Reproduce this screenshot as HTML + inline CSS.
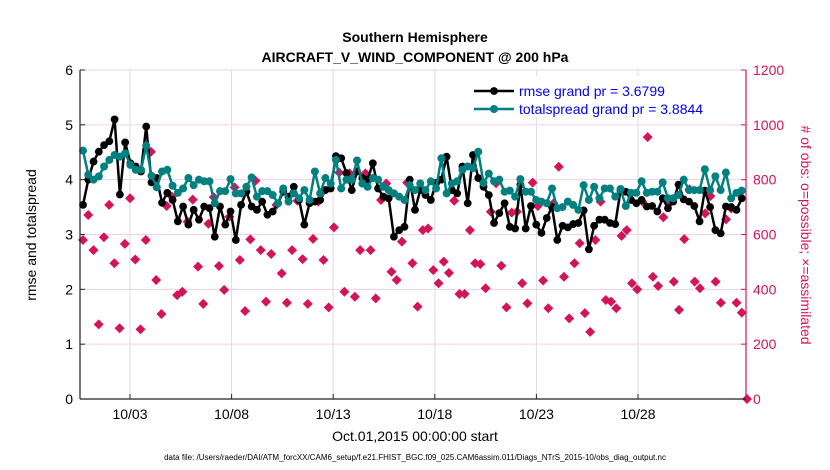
<!DOCTYPE html>
<html><head><meta charset="utf-8">
<style>
html,body{margin:0;padding:0;background:#fff;}
svg{display:block;font-family:"Liberation Sans",sans-serif;}
</style></head>
<body>
<svg id="chart" width="830" height="470" viewBox="0 0 830 470">
<text x="415" y="42" text-anchor="middle" font-size="14" font-weight="bold">Southern Hemisphere</text>
<text x="415" y="62" text-anchor="middle" font-size="14" font-weight="bold">AIRCRAFT_V_WIND_COMPONENT @ 200 hPa</text>
<g id="grid"></g>
<g id="marks"></g>
<g id="axes"></g>
<text transform="translate(36,235) rotate(-90)" text-anchor="middle" font-size="14">rmse and totalspread</text>
<text transform="translate(801,235) rotate(90)" text-anchor="middle" font-size="14" fill="#d4145a"># of obs: o=possible; ×=assimilated</text>
<text x="415" y="441" text-anchor="middle" font-size="14">Oct.01,2015 00:00:00 start</text>
<text x="415" y="460" text-anchor="middle" font-size="8">data file: /Users/raeder/DAI/ATM_forcXX/CAM6_setup/f.e21.FHIST_BGC.f09_025.CAM6assim.011/Diags_NTrS_2015-10/obs_diag_output.nc</text>
<g>
<rect x="468" y="76" width="274" height="42" fill="#fff"/>
<g>
<line x1="474" y1="91" x2="514" y2="91" stroke="#000" stroke-width="2.5"/>
<circle cx="494" cy="91" r="3.9" fill="#000"/>
<text x="519" y="96" font-size="14" fill="#0000ee">rmse grand pr = 3.6799</text>
</g>
<g>
<line x1="474" y1="109" x2="514" y2="109" stroke="#008080" stroke-width="2.5"/>
<circle cx="494" cy="109" r="4" fill="#008080"/>
<text x="519" y="114" font-size="14" fill="#0000ee">totalspread grand pr = 3.8844</text>
</g>
</g>
</svg>
<script>
const yTicks = [0,1,2,3,4,5,6];
const y2Ticks = [0,200,400,600,800,1000,1200];
const dateLabels = ["10/03","10/08","10/13","10/18","10/23","10/28"];
const dateDays = [2,7,12,17,22,27];
const rmse = [3.54,4.0,4.33,4.51,4.63,4.7,5.1,3.73,4.68,4.3,4.24,4.15,4.97,3.95,4.03,3.58,3.76,3.63,3.24,3.51,3.18,3.45,3.27,3.51,
3.48,2.96,3.51,3.18,3.42,2.9,3.54,3.78,3.51,3.45,3.6,3.36,3.42,3.57,3.78,3.69,3.87,3.63,3.18,3.57,3.6,3.63,3.81,3.84,4.43,
4.39,4.12,3.81,4.15,4.03,4.0,4.3,3.84,3.69,3.66,2.96,3.08,3.14,4.0,3.45,3.81,3.72,3.63,3.94,4.0,4.42,3.81,3.75,4.24,3.57,4.45,
4.03,3.87,3.72,3.21,3.39,3.57,3.14,3.11,3.91,3.11,3.52,3.18,3.03,3.3,3.5,2.9,3.16,3.13,3.19,3.21,3.44,2.73,3.16,3.27,3.27,
3.21,3.19,3.8,3.78,3.63,3.57,3.63,3.51,3.52,3.42,3.66,3.48,3.6,3.91,3.64,3.6,3.52,3.24,3.8,3.5,3.08,3.02,3.51,3.5,3.45,3.66,null];
const spread = [4.53,4.09,4.0,4.06,4.24,4.36,4.45,4.42,4.48,4.27,4.18,4.18,4.62,4.07,3.86,4.15,4.18,3.89,3.76,3.84,4.03,3.9,4.0,3.97,
3.97,3.57,3.79,3.79,4.01,3.75,3.75,3.87,4.04,3.69,3.79,3.79,3.72,3.57,3.84,3.6,3.75,3.66,3.81,3.63,4.15,3.75,4.03,3.93,4.36,
3.84,4.0,4.0,4.35,3.93,3.87,4.03,4.0,3.87,3.81,3.75,3.69,3.63,3.9,3.81,3.93,3.81,3.97,3.84,4.39,3.75,3.93,3.97,4.18,4.24,4.21,
4.51,3.94,4.11,3.97,4.0,3.78,3.8,3.69,4.01,3.78,3.78,3.63,3.6,3.57,3.84,3.48,3.5,3.6,3.54,3.45,3.9,3.63,3.87,3.66,3.84,
3.84,3.69,3.83,3.52,3.76,3.76,3.97,3.76,3.78,3.78,3.95,3.66,3.66,3.72,4.0,3.81,3.81,3.81,4.19,3.81,4.06,3.81,4.13,3.66,3.76,3.8,null];
const nobs = [580,671,543,272,590,708,495,258,566,732,509,254,580,902,434,310,704,738,379,391,647,727,483,347,639,
736,485,398,665,772,507,321,582,796,543,355,529,708,458,351,543,723,510,347,584,720,507,334,626,826,
391,823,373,543,823,543,367,726,786,464,434,574,789,495,337,616,622,470,422,501,460,723,383,383,616,495,
492,404,683,787,486,334,680,683,422,349,789,704,432,331,714,847,446,294,495,568,313,245,580,720,361,
355,331,595,616,422,400,720,955,446,412,663,714,428,325,583,765,428,404,677,740,428,351,655,695,351,315,0];

const L=80,R=746,T=70,B=399;
const NS="http://www.w3.org/2000/svg";
const yS=v=>B-(v/6)*(B-T);
const y2S=v=>B-(v/1200)*(B-T);
const xIdx=(i,n)=>83+i*(747-83)/(n-1);
const xDay=d=>130+(d-2)*20.32;
function mk(tag,attrs,parent){const e=document.createElementNS(NS,tag);for(const k in attrs)e.setAttribute(k,attrs[k]);parent.appendChild(e);return e;}
const grid=document.getElementById('grid'),axes=document.getElementById('axes'),marks=document.getElementById('marks');
mk('rect',{x:L,y:T,width:R-L,height:B-T,fill:'#fff'},grid);
yTicks.forEach(v=>{
  const g=mk('line',{x1:L,x2:R,y1:yS(v),y2:yS(v),stroke:'#f3cfe0','stroke-width':1},grid);
  
  
  const t=mk('text',{x:L-7,y:yS(v)+5,'text-anchor':'end','font-size':14},axes);t.textContent=v;
  
  
  mk('line',{x1:L,x2:L+5,y1:yS(v),y2:yS(v),stroke:'#222'},axes);
});
y2Ticks.forEach(v=>{
  const t=mk('text',{x:R+7,y:y2S(v)+5,'font-size':14,fill:'#d4145a'},axes);t.textContent=v;
  
  
  mk('line',{x1:R-5,x2:R,y1:y2S(v),y2:y2S(v),stroke:'#d4145a'},axes);
});
dateDays.forEach((d,i)=>{
  const x=xDay(d);
  const g=mk('line',{x1:x,x2:x,y1:T,y2:B,stroke:'#dddddd','stroke-width':1},grid);
  
  
  mk('line',{x1:x,x2:x,y1:B-5,y2:B,stroke:'#222'},axes);
  const t=mk('text',{x:x,y:B+20,'text-anchor':'middle','font-size':14},axes);t.textContent=dateLabels[i];
  
  
});
mk('line',{x1:L,x2:L,y1:T,y2:B,stroke:'#222','stroke-width':1.2},axes);
mk('line',{x1:L,x2:R,y1:B,y2:B,stroke:'#222','stroke-width':1.2},axes);
mk('line',{x1:R,x2:R,y1:T,y2:B,stroke:'#d4145a','stroke-width':1.2},axes);

nobs.forEach((v,i)=>{
  if(v==null)return;
  const x=xIdx(i,nobs.length),y=y2S(v);
  const p=mk('path',{d:`M${x-5},${y}L${x},${y-5}L${x+5},${y}L${x},${y+5}Z`,fill:'#d4145a'},marks);
  
  
});
function series(arr,color,r,name){
  let d='';let pen=false;
  arr.forEach((v,i)=>{if(v==null){pen=false;return;}const x=xIdx(i,arr.length),y=yS(v);d+=(pen?'L':'M')+x.toFixed(1)+','+y.toFixed(1);pen=true;});
  const p=mk('path',{d:d,fill:'none',stroke:color,'stroke-width':2.5,'stroke-linejoin':'round'},marks);
  
  
  arr.forEach((v,i)=>{if(v==null)return;
    const c=mk('circle',{cx:xIdx(i,arr.length),cy:yS(v),r:r,fill:color},marks);
    
    
  });
}
series(rmse,'#000000',3.9,'rmse');
series(spread,'#008080',4,'totalspread');
</script>
</body></html>
